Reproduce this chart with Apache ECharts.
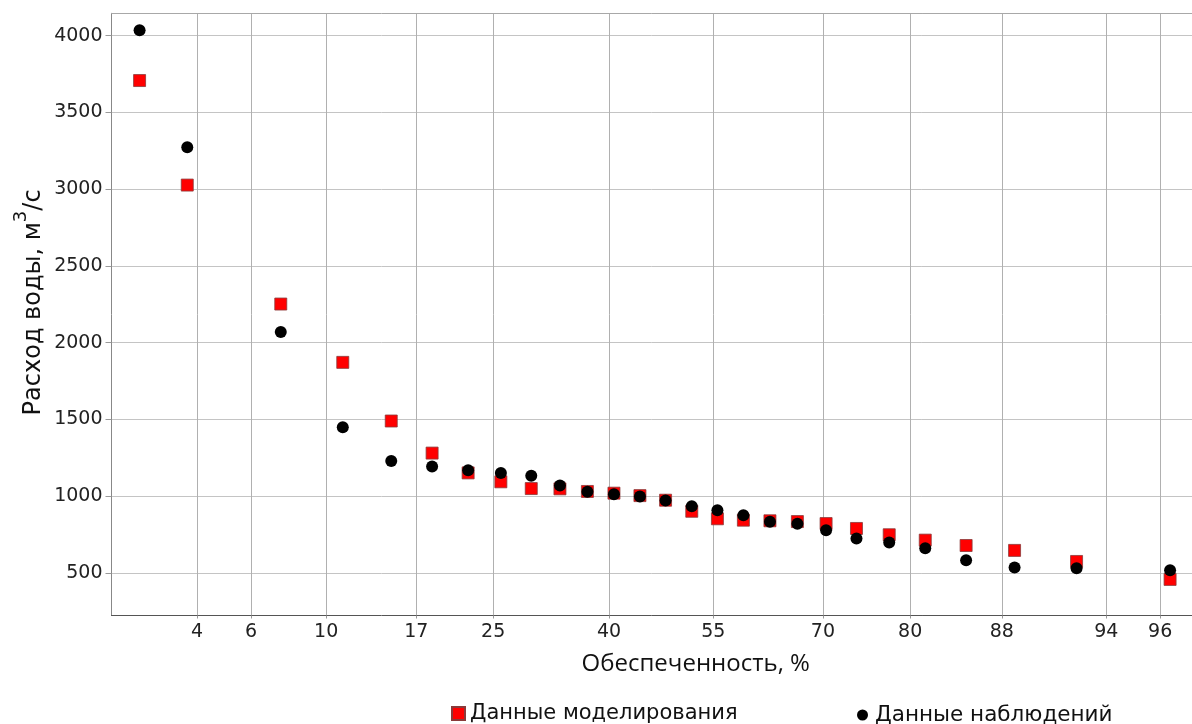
<!DOCTYPE html>
<html>
<head>
<meta charset="utf-8">
<script src="https://cdn.jsdelivr.net/npm/echarts@6/dist/echarts.min.js"></script>
<style>
  html, body { margin: 0; padding: 0; background: #fff; }
  #chart { width: 1192px; height: 724px; }
</style>
</head>
<body>
<div id="chart"></div>
<script>
// ---- data (exceedance probability %, discharge m3/s) ----
const exceedance = [2.5, 3.7, 7.4, 11.1, 14.8, 18.5, 22.2, 25.9, 29.6, 33.3, 37.0, 40.7, 44.4, 48.1, 51.9, 55.6, 59.3, 63.0, 66.7, 70.4, 74.1, 77.8, 81.5, 85.2, 88.9, 92.6, 96.3];
const modelled   = [3708, 3027, 2252, 1872, 1490, 1281, 1152, 1094, 1050, 1048, 1031, 1020, 1004, 974, 902, 853, 844, 840, 835, 822, 790, 749, 714, 679, 647, 575, 458];
const observed   = [4035, 3274, 2070, 1449, 1230, 1193, 1169, 1152, 1133, 1070, 1029, 1013, 998, 972, 935, 909, 876, 833, 820, 779, 725, 699, 661, 583, 536, 531, 518];
const xTickLabels = [4, 6, 10, 17, 25, 40, 55, 70, 80, 88, 94, 96];
const yTickLabels = [500, 1000, 1500, 2000, 2500, 3000, 3500, 4000];
const seriesNames = ['Данные моделирования', 'Данные наблюдений'];

// normal probability scale transform (inverse standard normal CDF, Acklam)
function normInv(p) {
  const a = [-3.969683028665376e+01, 2.209460984245205e+02, -2.759285104469687e+02, 1.383577518672690e+02, -3.066479806614716e+01, 2.506628277459239e+00];
  const b = [-5.447609879822406e+01, 1.615858368580409e+02, -1.556989798598866e+02, 6.680131188771972e+01, -1.328068155288572e+01];
  const c = [-7.784894002430293e-03, -3.223964580411365e-01, -2.400758277161838e+00, -2.549732539343734e+00, 4.374664141464968e+00, 2.938163982698783e+00];
  const d = [7.784695709041462e-03, 3.224671290700398e-01, 2.445134137142996e+00, 3.754408661907416e+00];
  const pl = 0.02425, ph = 1 - pl;
  let q, r;
  if (p < pl) {
    q = Math.sqrt(-2 * Math.log(p));
    return (((((c[0]*q+c[1])*q+c[2])*q+c[3])*q+c[4])*q+c[5]) / ((((d[0]*q+d[1])*q+d[2])*q+d[3])*q+1);
  }
  if (p <= ph) {
    q = p - 0.5; r = q * q;
    return (((((a[0]*r+a[1])*r+a[2])*r+a[3])*r+a[4])*r+a[5])*q / (((((b[0]*r+b[1])*r+b[2])*r+b[3])*r+b[4])*r+1);
  }
  q = Math.sqrt(-2 * Math.log(1 - p));
  return -(((((c[0]*q+c[1])*q+c[2])*q+c[3])*q+c[4])*q+c[5]) / ((((d[0]*q+d[1])*q+d[2])*q+d[3])*q+1);
}
const z = p => normInv(p / 100);

const xTickZ = xTickLabels.map(z);
function xLabel(v) {
  let best = 0, bd = Infinity;
  xTickZ.forEach((t, i) => { const dd = Math.abs(t - v); if (dd < bd) { bd = dd; best = i; } });
  return String(xTickLabels[best]);
}

const modelData = exceedance.map((p, i) => [z(p), modelled[i]]);
const obsData = exceedance.map((p, i) => [z(p), observed[i]]);

const chart = echarts.init(document.getElementById('chart'), null, { renderer: 'canvas' });
const font = 'DejaVu Sans';
const xMin = z(1.96), xMax = z(96.9);
chart.setOption({
  animation: false,
  grid: { left: 111.5, right: 0, top: 13.3, bottom: 108.5, show: false, containLabel: false, outerBoundsMode: 'none' },
  legend: [
    {
      data: [{ name: seriesNames[0], icon: 'rect' }],
      left: 446, top: 698, itemWidth: 13, itemHeight: 13, itemGap: 0,
      textStyle: { fontFamily: font, fontSize: 21, color: '#111', padding: [0, 0, 0, 0] }
    },
    {
      data: [{ name: seriesNames[1], icon: 'circle' }],
      left: 852, top: 699, itemWidth: 11, itemHeight: 11, itemGap: 0,
      textStyle: { fontFamily: font, fontSize: 21.5, color: '#111', padding: [0, 0, 0, 2] }
    }
  ],
  xAxis: [
    {
      type: 'value',
      min: xMin, max: xMax,
      name: 'Обеспеченность, %',
      nameLocation: 'middle',
      nameGap: 37,
      nameTextStyle: { fontFamily: 'Open Sans', fontSize: 24, color: '#111', padding: [0, 0, 0, 88] },
      axisLine: { show: true, onZero: false, lineStyle: { color: '#555', width: 1 } },
      axisTick: { show: true, customValues: xTickZ, length: 3, lineStyle: { color: '#999' } },
      axisLabel: { customValues: xTickZ, formatter: xLabel, fontFamily: font, fontSize: 19, color: '#222', margin: 7 },
      splitLine: { show: true, lineStyle: { color: '#b0b0b0', width: 1 } }
    },
    {
      type: 'value', position: 'top',
      min: xMin, max: xMax,
      axisLine: { show: true, onZero: false, lineStyle: { color: '#a8a8a8', width: 1 } },
      axisTick: { show: false }, axisLabel: { show: false }, splitLine: { show: false }
    }
  ],
  yAxis: {
    type: 'value',
    min: 223, max: 4146,
    name: 'Расход воды, м{sup|3}/с',
    nameLocation: 'middle',
    nameGap: 57,
    nameMoveOverlap: false,
    nameTextStyle: {
      fontFamily: font, fontSize: 24, color: '#111', lineHeight: 42, padding: [0, 0, 0, 24],
      rich: { sup: { fontFamily: font, fontSize: 18, lineHeight: 18, color: '#111', verticalAlign: 'top' } }
    },
    axisLine: { show: true, onZero: false, lineStyle: { color: '#888', width: 1 } },
    axisTick: { show: true, customValues: yTickLabels, length: 6, lineStyle: { color: '#999' } },
    axisLabel: { customValues: yTickLabels, formatter: v => String(v), fontFamily: font, fontSize: 19, color: '#222', margin: 9 },
    splitLine: { show: true, lineStyle: { color: '#c4c4c4', width: 1 } }
  },
  series: [
    {
      name: seriesNames[0], type: 'scatter', symbol: 'rect', symbolSize: 12,
      itemStyle: { color: '#ff0000', borderColor: '#8a3a3a', borderWidth: 0.8, opacity: 1 },
      data: modelData, z: 2
    },
    {
      name: seriesNames[1], type: 'scatter', symbol: 'circle', symbolSize: 12,
      itemStyle: { color: '#000000', opacity: 1 },
      data: obsData, z: 3
    }
  ]
});
</script>
</body>
</html>
